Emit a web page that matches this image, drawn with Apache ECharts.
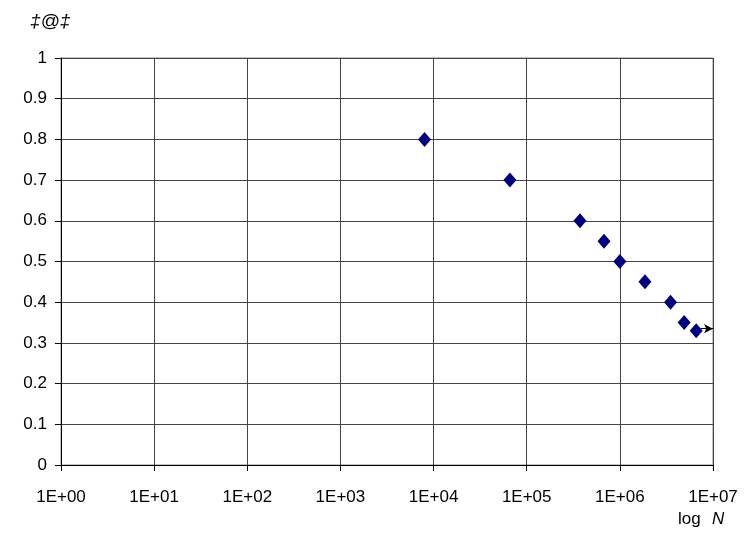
<!DOCTYPE html>
<html><head><meta charset="utf-8">
<script src="https://cdn.jsdelivr.net/npm/echarts@6/dist/echarts.min.js"></script>
<style>html,body{margin:0;padding:0;background:#fff}#c{width:755px;height:540px}</style>
</head><body><div id="c"></div>
<script>
const cycles = [8000, 66000, 373000, 676000, 1000000, 1860000, 3500000, 4900000, 6600000];
const stressRatio = [0.8, 0.7, 0.6, 0.55, 0.5, 0.45, 0.4, 0.35, 0.33];
const runoutArrow = [[7400000, 0.335], [10000000, 0.335]];
const yTicks = [0, 0.1, 0.2, 0.3, 0.4, 0.5, 0.6, 0.7, 0.8, 0.9, 1];

const chart = echarts.init(document.getElementById('c'));
const font = 'Liberation Sans, Arial, sans-serif';
chart.setOption({
  animation: false,
  grid: {left: 61, right: 42, top: 58, bottom: 75, show: true, borderColor: '#888', borderWidth: 1},
  xAxis: {
    type: 'log', logBase: 10, min: 1, max: 10000000,
    axisLine: {lineStyle: {color: '#000'}},
    axisTick: {show: true, length: 6, lineStyle: {color: '#000'}},
    minorTick: {show: false},
    splitLine: {show: true, lineStyle: {color: '#444', width: 1}},
    axisLabel: {
      color: '#000', fontFamily: font, fontSize: 17, margin: 24,
      formatter: v => { const e = Math.round(Math.log10(v)); return '1E+' + (e < 10 ? '0' : '') + e; }
    }
  },
  yAxis: {
    type: 'value', min: 0, max: 1, interval: 0.1,
    axisLine: {show: true, lineStyle: {color: '#000'}},
    axisTick: {show: true, length: 6, lineStyle: {color: '#000'}},
    splitLine: {show: true, lineStyle: {color: '#444', width: 1}},
    axisLabel: {color: '#000', fontFamily: font, fontSize: 17, margin: 14,
      formatter: v => { const t = yTicks.find(x => Math.abs(x - v) < 1e-9); return String(t !== undefined ? t : +v.toFixed(1)); }}
  },
  graphic: [
    {type: 'text', left: 30, top: 12, style: {text: '‡@‡', font: 'italic 19px ' + font, fill: '#000'}},
    {type: 'text', left: 678, top: 511, style: {text: 'log', font: '17px ' + font, fill: '#000'}},
    {type: 'text', left: 712, top: 511, style: {text: 'N', font: 'italic 17px ' + font, fill: '#000'}}
  ],
  series: [{
    type: 'scatter',
    data: cycles.map((c, i) => [c, stressRatio[i]]),
    symbol: 'diamond', symbolSize: [13, 15],
    itemStyle: {color: '#000080', opacity: 1},
    markLine: {
      silent: true, symbol: ['none', 'arrow'], symbolSize: [7, 9],
      label: {show: false},
      lineStyle: {color: '#000', type: 'solid', width: 1},
      data: [[{coord: runoutArrow[0]}, {coord: runoutArrow[1]}]]
    }
  }]
});
</script></body></html>
